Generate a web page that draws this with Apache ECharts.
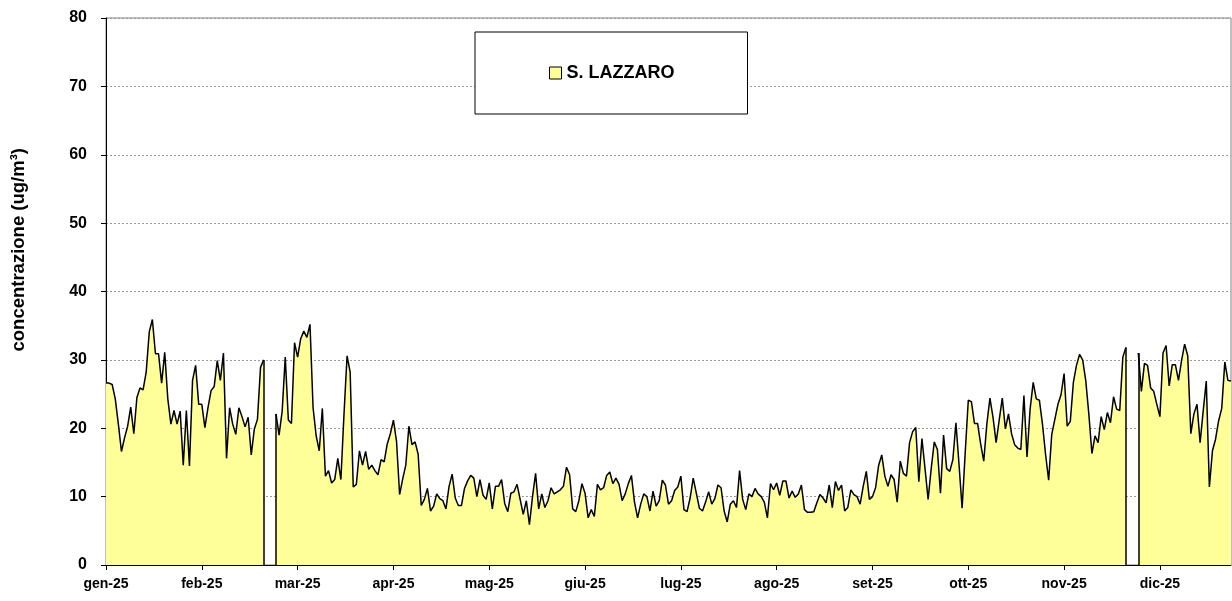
<!DOCTYPE html>
<html>
<head>
<meta charset="utf-8">
<script src="https://cdn.jsdelivr.net/npm/echarts@6/dist/echarts.min.js"></script>
<style>
html,body{margin:0;padding:0;background:#fff;}
#chart{width:1232px;height:601px;}
</style>
</head>
<body>
<div id="chart"></div>
<script>
// Tick labels (one every 31 days, as in the original)
const tickLabels = ['gen-25','feb-25','mar-25','apr-25','mag-25','giu-25','lug-25','ago-25','set-25','ott-25','nov-25','dic-25'];
const seriesName = 'S. LAZZARO';

// Daily concentrations (ug/m3), 2025, one array per month
const jan = [26.6,26.6,26.4,24.3,20.6,16.6,18.6,20.3,23.1,19.2,24.5,25.9,25.6,28.2,34.1,35.9,30.9,30.9,26.6,31.1,24.3,20.6,22.6,20.6,22.5,14.6,22.6,14.5,27.0,29.2,23.5];
const feb = [23.5,20.1,23.0,25.5,26.1,29.9,27.0,31.0,15.6,23.0,20.6,19.1,23.0,21.7,20.2,21.6,16.1,19.9,21.3,28.9,30.0,null,null,null,22.1,19.0,22.5,30.4];
const mar = [21.2,20.7,32.5,30.4,33.1,34.2,33.3,35.2,23.0,18.9,16.7,22.9,13.0,13.8,12.0,12.5,15.6,12.5,22.0,30.6,28.2,11.4,11.8,16.7,14.6,16.6,14.0,14.6,13.8,13.2,15.4];
const apr = [15.1,17.7,19.2,21.2,18.1,10.3,12.6,14.6,20.3,17.6,18.0,16.2,8.7,9.6,11.2,7.9,8.6,10.4,9.7,9.4,8.2,11.5,13.3,9.8,8.7,8.7,11.2,12.3,13.1,12.7];
const may = [10.0,12.5,10.2,9.6,12.0,8.2,11.5,11.5,12.5,9.0,7.8,10.5,10.7,11.8,9.6,7.4,9.4,5.9,10.0,13.4,8.2,10.4,8.4,9.4,11.3,10.4,10.7,11.0,11.5,14.3,13.2];
const jun = [8.2,7.8,9.4,11.9,10.5,6.9,8.1,7.1,11.8,11.0,11.3,13.1,13.6,11.9,12.7,11.8,9.4,10.4,11.9,13.1,9.2,6.9,8.9,10.4,10.0,7.9,10.8,8.6,9.4,12.4];
const jul = [11.7,8.9,9.4,10.9,11.4,13.0,8.1,7.8,9.8,12.7,10.5,8.3,7.9,9.2,10.7,8.9,9.7,11.7,11.3,7.9,6.3,8.9,9.4,8.4,13.8,9.6,8.1,10.4,10.0,11.2,10.4];
const aug = [10.0,9.2,6.9,11.9,11.0,12.0,10.2,12.3,12.3,9.8,10.8,9.9,10.4,11.7,8.1,7.7,7.7,7.8,9.1,10.3,9.8,9.1,11.7,8.4,12.2,10.9,11.7,7.9,8.4,11.0,10.3];
const sep = [10.0,8.9,11.5,13.7,9.6,10.0,11.3,14.6,16.1,13.0,11.5,13.2,12.5,9.2,15.2,13.4,13.0,17.9,19.5,20.1,12.2,18.5,14.1,9.6,14.1,18.0,16.9,10.5,19.0,14.1];
const oct = [13.7,15.4,20.8,14.7,8.3,16.4,24.1,23.9,20.7,20.7,17.7,15.2,20.6,24.4,21.6,17.9,21.2,24.4,19.9,22.1,19.2,17.6,17.1,16.9,24.8,15.8,22.8,26.7,24.3,24.1,20.6];
const nov = [16.2,12.4,19.1,21.3,23.5,24.9,28.0,20.3,21.0,26.7,29.2,30.8,30.0,27.0,22.1,16.3,18.9,17.9,21.7,19.8,22.3,20.8,24.6,22.8,22.6,30.4,31.8,null,null,null];
const dec = [31.0,25.4,29.5,29.2,25.9,25.4,23.5,21.7,31.0,32.1,26.2,29.3,29.3,27.0,29.9,32.3,30.6,19.2,22.1,23.5,17.9,22.5,26.9,11.4,16.7,18.4,21.1,22.9,29.7,27.0,26.9];

const values = [].concat(jan,feb,mar,apr,may,jun,jul,aug,sep,oct,nov,dec);

// categories: day of year 2025
const categories = [];
const start = Date.UTC(2025,0,1);
for (let i = 0; i < values.length; i++) {
  const d = new Date(start + i*86400000);
  categories.push(d.toISOString().slice(0,10));
}

// vertical edges where the series breaks (Excel area drops to the axis)
const edges = [];
for (let i = 0; i < values.length; i++) {
  const v = values[i];
  if (v == null) continue;
  const prevNull = i > 0 && values[i-1] == null;
  const nextNull = i < values.length-1 && values[i+1] == null;
  if (prevNull || nextNull) edges.push([{coord:[i,0]},{coord:[i,v]}]);
}

const FONT = 'Liberation Sans';
const chart = echarts.init(document.getElementById('chart'));
chart.setOption({
  animation: false,
  backgroundColor: '#ffffff',
  textStyle: {fontFamily: FONT},
  grid: {left: 106, right: 1, top: 18, bottom: 36, show: true, borderColor: '#808080', borderWidth: 1, backgroundColor: 'transparent'},
  legend: {
    left: 475, top: 32,
    padding: [32, 73, 32, 74],
    backgroundColor: '#ffffff', borderColor: '#000', borderWidth: 1, borderRadius: 0,
    itemWidth: 12, itemHeight: 12, itemGap: 4,
    icon: 'rect',
    itemStyle: {color: '#ffff99', borderColor: '#000', borderWidth: 1},
    textStyle: {fontFamily: FONT, fontWeight: 'bold', fontSize: 18, color: '#000', padding: [0,0,0,0]},
    data: [seriesName]
  },
  xAxis: {
    type: 'category',
    data: categories,
    boundaryGap: false,
    axisLine: {lineStyle: {color: '#000', width: 1}},
    axisTick: {show: true, interval: 30, length: 5, lineStyle: {color: '#000'}},
    axisLabel: {
      interval: 30,
      margin: 12,
      fontFamily: FONT, fontWeight: 'bold', fontSize: 14, color: '#000',
      formatter: function (value, index) { return tickLabels[Math.round(index/31)] || ''; }
    },
    splitLine: {show: false}
  },
  yAxis: {
    type: 'value',
    min: 0, max: 80, interval: 10,
    axisLine: {show: true, lineStyle: {color: '#000', width: 1}},
    axisTick: {show: true, length: 5, lineStyle: {color: '#000'}},
    axisLabel: {margin: 19, fontFamily: FONT, fontWeight: 'bold', fontSize: 16, color: '#000'},
    splitLine: {show: true, lineStyle: {color: '#9a9a9a', type: [2,2], width: 1}}
  },
  graphic: [{
    type: 'text',
    left: 9, top: 148,
    rotation: Math.PI/2,
    style: {text: 'concentrazione (ug/m³)', fontFamily: FONT, fontWeight: 'bold', fontSize: 18.5, fill: '#000'}
  }],
  series: [{
    name: seriesName,
    type: 'line',
    data: values,
    symbol: 'none',
    connectNulls: false,
    lineStyle: {color: '#000', width: 1.5},
    itemStyle: {color: '#ffff99'},
    areaStyle: {color: '#ffff99', opacity: 1},
    markLine: {
      silent: true,
      symbol: 'none',
      label: {show: false},
      lineStyle: {color: '#000', width: 1.5, type: 'solid'},
      data: edges
    }
  }]
});
</script>
</body>
</html>
